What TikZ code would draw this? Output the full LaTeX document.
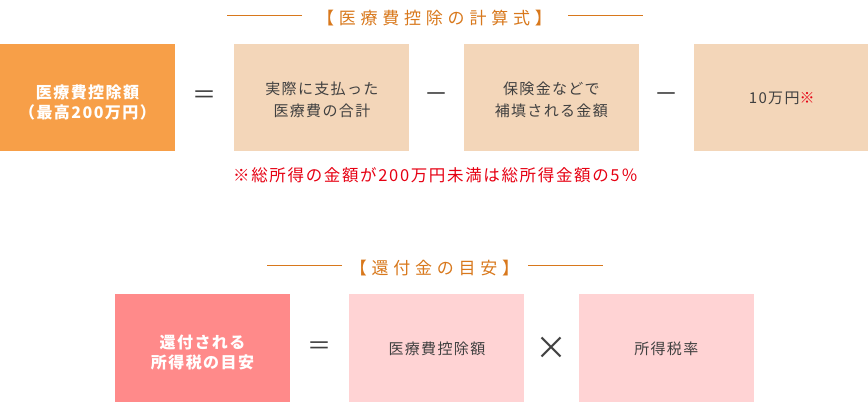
\documentclass[tikz,border=0pt]{standalone}
\usepackage{fontspec}
\usepackage{xcolor}
\usepackage{tikz}
\usetikzlibrary{positioning,calc}

\newfontfamily\jp[LetterSpace=9]{Noto Sans CJK JP}
\newfontfamily\jpnote[LetterSpace=10]{Noto Sans CJK JP}
\newfontfamily\jpwide[LetterSpace=28]{Noto Sans CJK JP}

\definecolor{deductorange}{HTML}{F79F48}
\definecolor{beige}{HTML}{F3D6B9}
\definecolor{headorange}{HTML}{D8781C}
\definecolor{notered}{HTML}{E60012}
\definecolor{refundpink}{HTML}{FF8A8A}
\definecolor{lightpink}{HTML}{FFD3D4}
\definecolor{ink}{HTML}{404040}

\begin{document}
\begin{tikzpicture}[
    x=1pt, y=-1pt,
    sumbox/.style={
        rectangle, fill=#1, minimum width=175pt, minimum height=107pt,
        inner sep=0pt, align=center, text=ink,
        font=\jp\fontsize{15}{22}\selectfont
    },
    oneline/.style={text height=14pt},
    twoline/.style={text height=40pt},
    totalbox/.style={sumbox=#1, text=white, text height=43pt,
        font=\jp\bfseries\fontsize{16}{20}\selectfont},
    op/.style={text=ink, font=\jp\fontsize{24}{24}\selectfont},
    heading/.style={text=headorange, font=\jpwide\fontsize{17}{20}\selectfont},
    rule/.style={draw=headorange, line width=0.8pt},
    note/.style={text=notered, font=\jpnote\fontsize{16.5}{20}\selectfont},
]
\useasboundingbox (0,0) rectangle (868,402);

% Deduction formula
\node[heading] (head1) at (434.5,18) {【医療費控除の計算式】};
\draw[rule] ([xshift=-132.5pt,yshift=3pt]head1.center) -- ++(-75,0);
\draw[rule] ([xshift=133.5pt,yshift=3pt]head1.center) -- ++(75,0);

\node[totalbox=deductorange] (deduct) at (87.5,97.5) {医療費控除額\\（最高200万円）};
\node[sumbox=beige, twoline, right=59pt of deduct] (paid) {実際に支払った\\医療費の合計};
\node[sumbox=beige, twoline, right=54pt of paid] (covered) {保険金などで\\補填される金額};
\node[sumbox=beige, oneline, right=55pt of covered] (floor) {10万円{\color{notered}※}};

\node[op] (eq1) at ($(deduct.east)!0.5!(paid.west)$) {＝};
\node[op] (minus1) at ($(paid.east)!0.5!(covered.west)$) {－};
\node[op] (minus2) at ($(covered.east)!0.5!(floor.west)$) {－};

\node[note] (remark) at (435.5,175) {※総所得の金額が200万円未満は総所得金額の5％};

% Refund estimate
\node[heading] (head2) at (434.5,268) {【還付金の目安】};
\draw[rule] ([xshift=-92.5pt,yshift=3pt]head2.center) -- ++(-75,0);
\draw[rule] ([xshift=93.5pt,yshift=3pt]head2.center) -- ++(75,0);

\node[totalbox=refundpink, minimum height=108pt] (refund) at (202.5,348) {還付される\\所得税の目安};
\node[sumbox=lightpink, oneline, minimum height=108pt, right=59pt of refund] (deduction) {医療費控除額};
\node[sumbox=lightpink, oneline, minimum height=108pt, right=54pt of deduction] (rate) {所得税率};

\node[op] (eq2) at ($(refund.east)!0.5!(deduction.west)$) {＝};
\node[op, font=\jp\fontsize{32}{32}\selectfont] (times) at ($(deduction.east)!0.5!(rate.west)$) {×};
\end{tikzpicture}
\end{document}
